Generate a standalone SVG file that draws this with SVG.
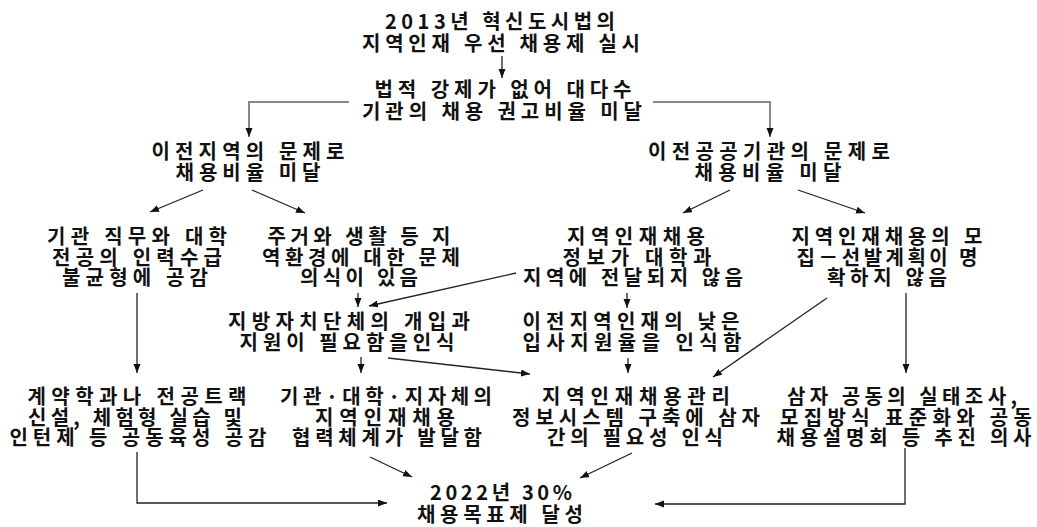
<svg xmlns="http://www.w3.org/2000/svg" width="1037" height="527" viewBox="0 0 1037 527">
<defs>
<style>
text{font-family:"Noto Sans CJK KR","Noto Sans",sans-serif;font-size:20px;fill:#111;text-anchor:middle;font-weight:bold}
.c{fill:none;stroke:#222;stroke-width:1.3}
.g{fill:none;stroke:#888;stroke-width:2}
</style>
<marker id="ah" markerUnits="userSpaceOnUse" markerWidth="10" markerHeight="8" refX="9" refY="3.5" orient="auto">
<path d="M0,0 L9,3.5 L0,7 z" fill="#111"/>
</marker>
</defs>
<rect width="1037" height="527" fill="#fff"/>
<g id="connectors">
<line class="c" x1="502" y1="56" x2="502" y2="78" marker-end="url(#ah)"/>
<polyline class="g" points="349,102 249,102 249,137" marker-end="url(#ah)"/>
<polyline class="g" points="653,102 770,102 770,137" marker-end="url(#ah)"/>
<line class="c" x1="203" y1="190" x2="150" y2="212" marker-end="url(#ah)"/>
<line class="c" x1="252" y1="190" x2="305" y2="213" marker-end="url(#ah)"/>
<line class="c" x1="730" y1="190" x2="683" y2="213" marker-end="url(#ah)"/>
<line class="c" x1="798" y1="190" x2="865" y2="213" marker-end="url(#ah)"/>
<line class="c" x1="137" y1="293" x2="137" y2="373" marker-end="url(#ah)"/>
<line class="c" x1="358" y1="293" x2="358" y2="307" marker-end="url(#ah)"/>
<line class="c" x1="516" y1="273" x2="369" y2="306" marker-end="url(#ah)"/>
<line class="c" x1="627" y1="293" x2="627" y2="308" marker-end="url(#ah)"/>
<line class="c" x1="906" y1="293" x2="906" y2="373" marker-end="url(#ah)"/>
<line class="c" x1="827" y1="298" x2="713" y2="377" marker-end="url(#ah)"/>
<line class="c" x1="361" y1="357" x2="361" y2="373" marker-end="url(#ah)"/>
<line class="c" x1="388" y1="358" x2="530" y2="374" marker-end="url(#ah)"/>
<line class="c" x1="628" y1="358" x2="628" y2="373" marker-end="url(#ah)"/>
<polyline class="c" points="137,452 137,503 387,503" marker-end="url(#ah)"/>
<line class="c" x1="370" y1="457" x2="412" y2="477" marker-end="url(#ah)"/>
<line class="c" x1="632" y1="453" x2="580" y2="478" marker-end="url(#ah)"/>
<polyline class="c" points="905,448 905,504 655,504" marker-end="url(#ah)"/>
</g>
<g id="n1"><text x="500" y="29" textLength="230" lengthAdjust="spacing">2013년 혁신도시법의</text><text x="501" y="51" textLength="278" lengthAdjust="spacing">지역인재 우선 채용제 실시</text></g>
<g id="n2"><text x="503" y="97" textLength="257" lengthAdjust="spacing">법적 강제가 없어 대다수</text><text x="502" y="119" textLength="280" lengthAdjust="spacing">기관의 채용 권고비율 미달</text></g>
<g id="n3"><text x="248" y="159" textLength="193" lengthAdjust="spacing">이전지역의 문제로</text><text x="248" y="180" textLength="145" lengthAdjust="spacing">채용비율 미달</text></g>
<g id="n4"><text x="769" y="159" textLength="242" lengthAdjust="spacing">이전공공기관의 문제로</text><text x="768" y="180" textLength="147" lengthAdjust="spacing">채용비율 미달</text></g>
<g id="n5"><text x="137" y="244" textLength="180" lengthAdjust="spacing">기관 직무와 대학</text><text x="137" y="265" textLength="170" lengthAdjust="spacing">전공의 인력수급</text><text x="135" y="285" textLength="146" lengthAdjust="spacing">불균형에 공감</text></g>
<g id="n6"><text x="359" y="244" textLength="183" lengthAdjust="spacing">주거와 생활 등 지</text><text x="361" y="265" textLength="198" lengthAdjust="spacing">역환경에 대한 문제</text><text x="359" y="285" textLength="118" lengthAdjust="spacing">의식이 있음</text></g>
<g id="n7"><text x="636" y="244" textLength="138" lengthAdjust="spacing">지역인재채용</text><text x="637" y="265" textLength="149" lengthAdjust="spacing">정보가 대학과</text><text x="633" y="285" textLength="220" lengthAdjust="spacing">지역에 전달되지 않음</text></g>
<g id="n8"><text x="887" y="244" textLength="191" lengthAdjust="spacing">지역인재채용의 모</text><text x="887" y="265" textLength="181" lengthAdjust="spacing">집－선발계획이 명</text><text x="887" y="285" textLength="120" lengthAdjust="spacing">확하지 않음</text></g>
<g id="n9"><text x="349" y="329" textLength="242" lengthAdjust="spacing">지방자치단체의 개입과</text><text x="347" y="350" textLength="215" lengthAdjust="spacing">지원이 필요함을인식</text></g>
<g id="n10"><text x="631" y="329" textLength="217" lengthAdjust="spacing">이전지역인재의 낮은</text><text x="632" y="350" textLength="219" lengthAdjust="spacing">입사지원율을 인식함</text></g>
<g id="n11"><text x="137" y="404" textLength="219" lengthAdjust="spacing">계약학과나 전공트랙</text><text x="135" y="425" textLength="214" lengthAdjust="spacing">신설, 체험형 실습 및</text><text x="138" y="445" textLength="257" lengthAdjust="spacing">인턴제 등 공동육성 공감</text></g>
<g id="n12"><text x="386" y="404" textLength="212" lengthAdjust="spacing">기관·대학·지자체의</text><text x="385" y="425" textLength="140" lengthAdjust="spacing">지역인재채용</text><text x="387" y="445" textLength="190" lengthAdjust="spacing">협력체계가 발달함</text></g>
<g id="n13"><text x="636" y="404" textLength="188" lengthAdjust="spacing">지역인재채용관리</text><text x="636" y="425" textLength="248" lengthAdjust="spacing">정보시스템 구축에 삼자</text><text x="635" y="445" textLength="176" lengthAdjust="spacing">간의 필요성 인식</text></g>
<g id="n14"><text x="902" y="404" textLength="230" lengthAdjust="spacing">삼자 공동의 실태조사,</text><text x="906" y="425" textLength="252" lengthAdjust="spacing">모집방식 표준화와 공동</text><text x="904" y="445" textLength="255" lengthAdjust="spacing">채용설명회 등 추진 의사</text></g>
<g id="n15"><text x="501" y="500" textLength="142" lengthAdjust="spacing">2022년 30%</text><text x="500" y="522" textLength="166" lengthAdjust="spacing">채용목표제 달성</text></g>
</svg>
